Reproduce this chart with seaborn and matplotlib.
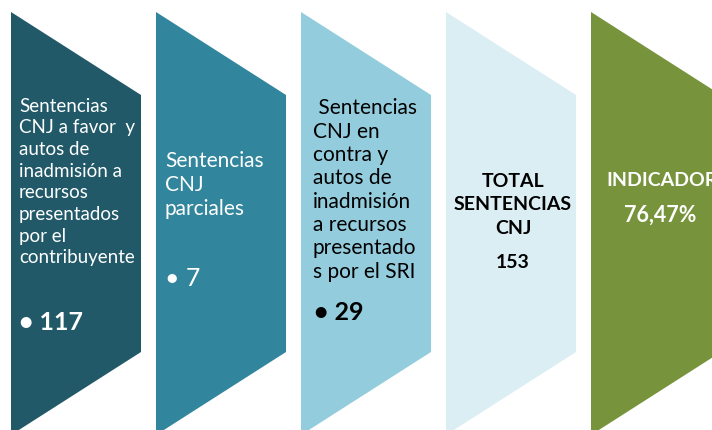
import matplotlib.pyplot as plt
import seaborn as sns

# datos del indicador
etiquetas = [
    "Sentencias\nCNJ a favor  y\nautos de\ninadmisión a\nrecursos\npresentados\npor el\ncontribuyente",
    "Sentencias\nCNJ\nparciales",
    " Sentencias\nCNJ en\ncontra y\nautos de\ninadmisión\na recursos\npresentado\ns por el SRI",
    "TOTAL\nSENTENCIAS\nCNJ",
    "INDICADOR",
]
valores = ["117", "7", "29", "153", "76,47%"]
colores = ["#215968", "#31859C", "#93CDDD", "#DBEEF4", "#77933C"]
color_texto = ["white", "white", "black", "black", "white"]

sns.set_theme(style="white")
plt.rcParams["font.family"] = ["Lato", "DejaVu Sans"]

fig = plt.figure(figsize=(7.12, 4.30), dpi=100)
ax = fig.add_axes([0, 0, 1, 1])
ax.set_xlim(0, 712)
ax.set_ylim(430, 0)
ax.axis("off")

x0, paso, ancho = 11, 145, 130
arriba, pico, bajo = 12, 95, 352
for i, c in enumerate(colores):
    l = x0 + i * paso
    r = l + ancho
    ax.fill([l, r, r, l], [arriba, pico, bajo, bajo + (pico - arriba)], color=c, lw=0)

# forma 1
ax.text(19, 182, etiquetas[0], color=color_texto[0], fontsize=13.5, va="center", linespacing=1.33)
ax.text(19, 323, "• " + valores[0], color=color_texto[0], fontsize=18, fontweight="bold", va="center")
# forma 2
ax.text(165, 185, etiquetas[1], color=color_texto[1], fontsize=15, va="center", linespacing=1.22)
ax.text(165, 279, "• " + valores[1], color=color_texto[1], fontsize=18, va="center")
# forma 3
ax.text(313, 190, etiquetas[2], color=color_texto[2], fontsize=15, va="center", linespacing=1.21)
ax.text(314, 312, "• " + valores[2], color=color_texto[2], fontsize=18, fontweight="bold", va="center")
# forma 4
ax.text(513, 205, etiquetas[3], color=color_texto[3], fontsize=14, fontweight="bold",
        va="center", ha="center", linespacing=1.45)
ax.text(513, 263, valores[3], color=color_texto[3], fontsize=14, fontweight="bold",
        va="center", ha="center")
# forma 5 (el texto queda cortado en el borde, como en el original)
ax.text(606, 181, etiquetas[4], color=color_texto[4], fontsize=14, fontweight="bold", va="center")
ax.text(660, 215, valores[4], color=color_texto[4], fontsize=15.5, fontweight="bold",
        va="center", ha="center")

fig.savefig("out.png", dpi=100)
